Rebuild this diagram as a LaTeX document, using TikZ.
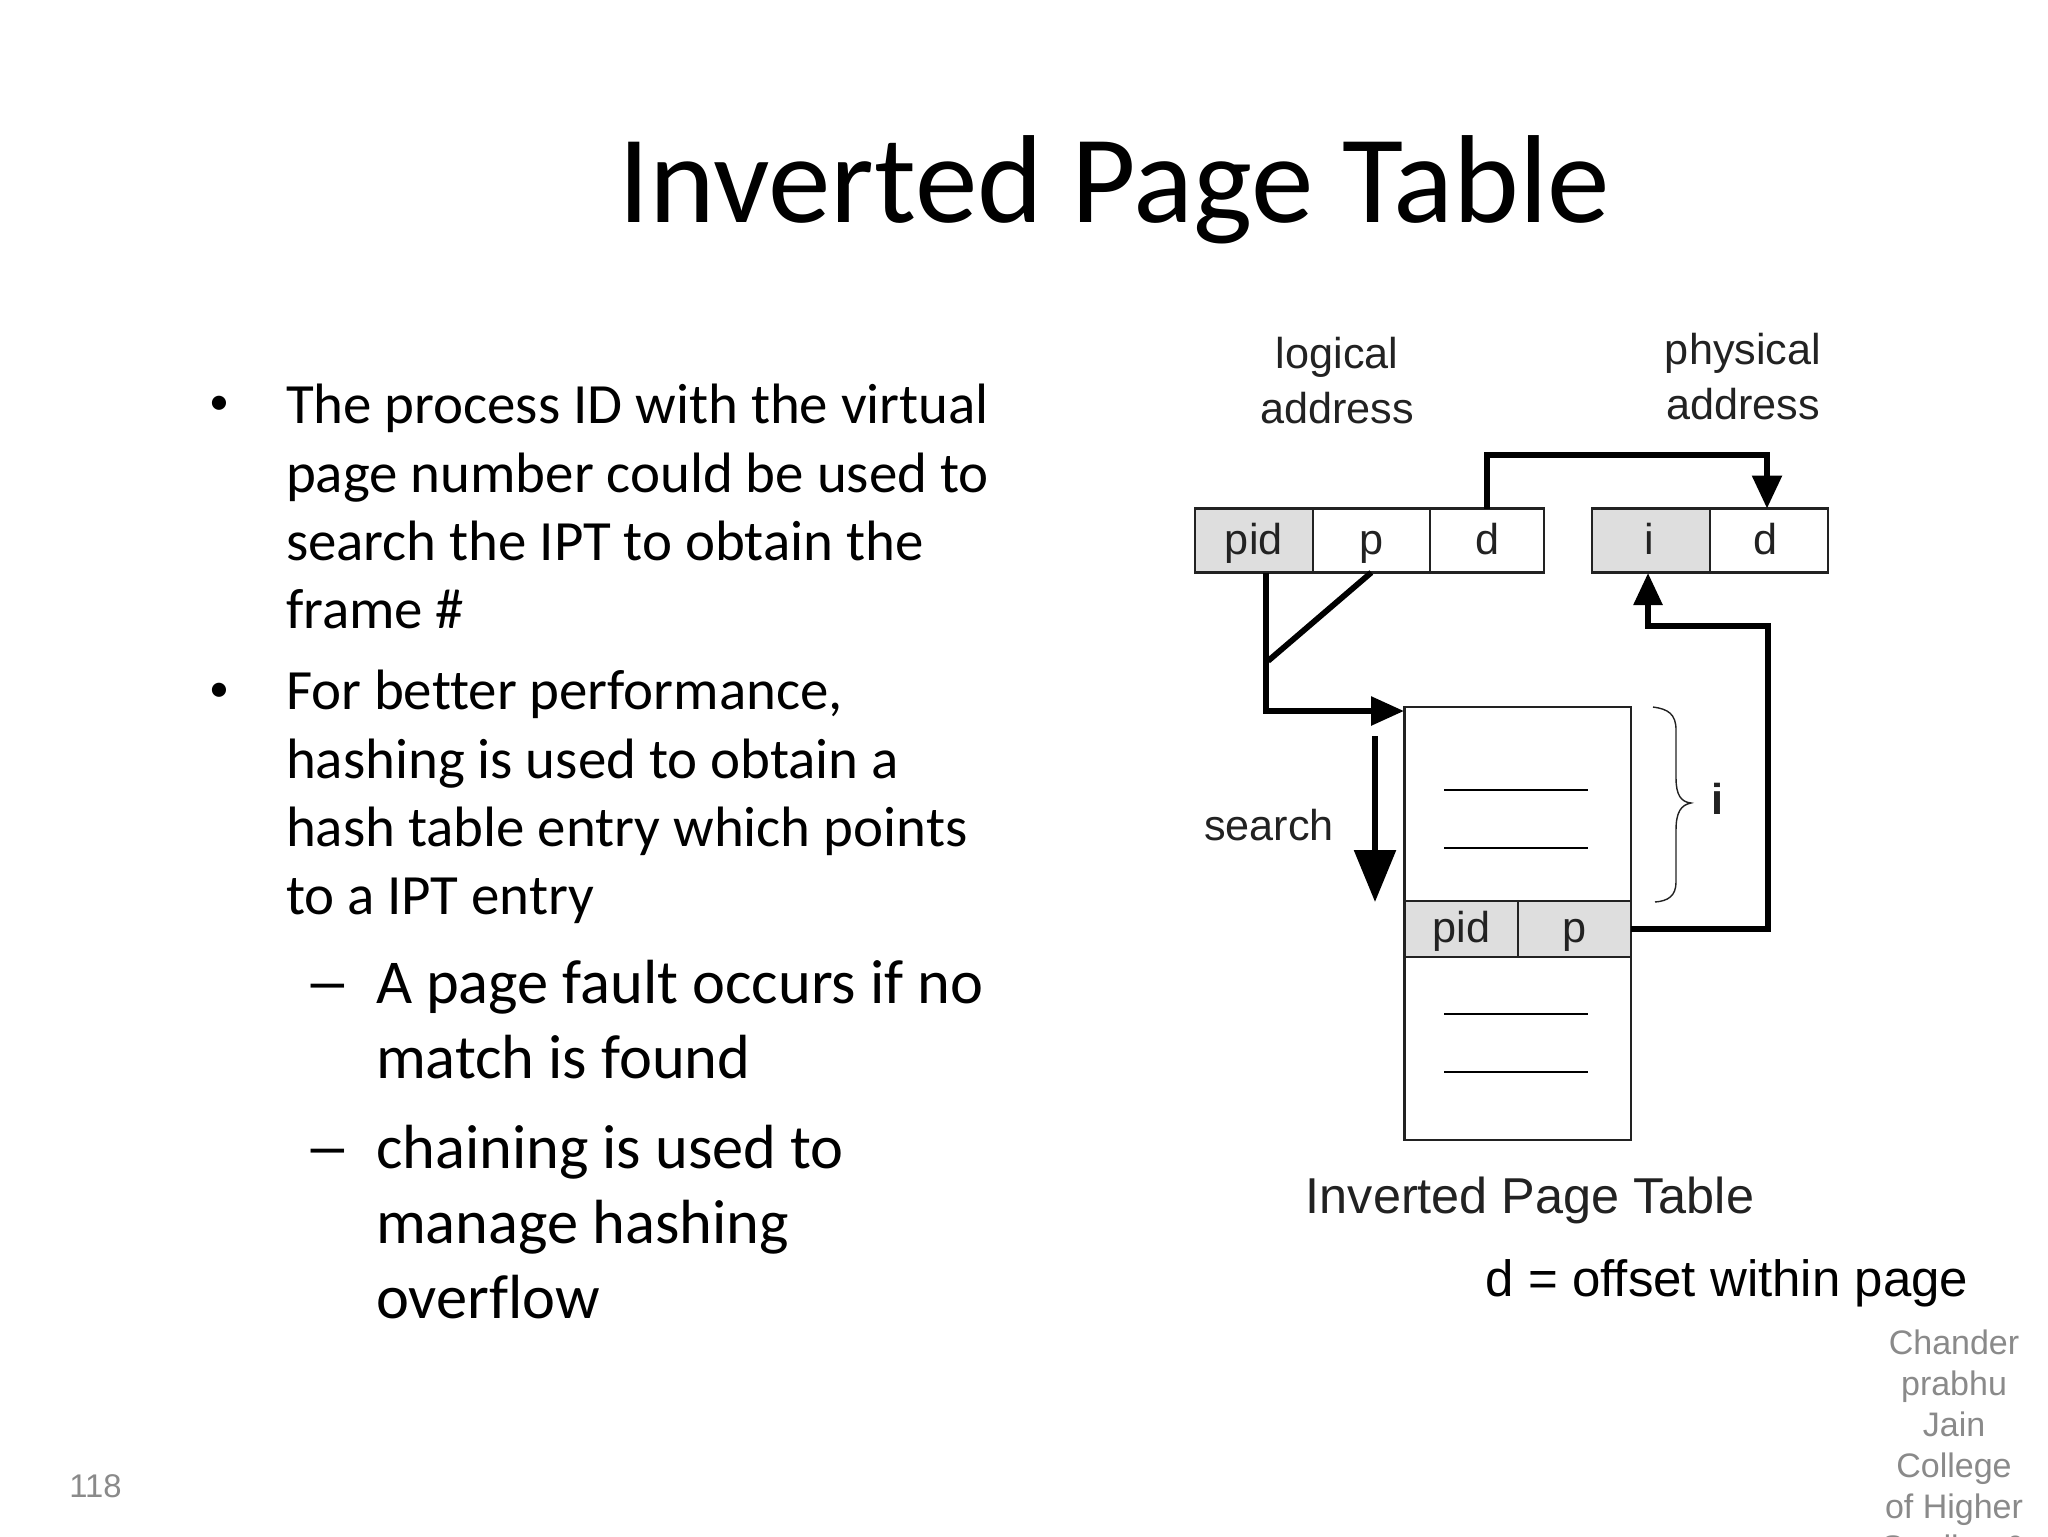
\documentclass[tikz,border=0pt]{standalone}
\usepackage{fontspec}
\setmainfont{Carlito}[Ligatures=NoCommon]
\newfontfamily\arialfont{Liberation Sans}
\usetikzlibrary{arrows.meta}
\definecolor{cellgray}{HTML}{DEDEDE}
\definecolor{footgray}{HTML}{8A8A8A}
\definecolor{inkdark}{HTML}{222222}
\tikzset{
  x=0.5pt,y=-0.5pt,
  txt/.style={inner sep=0pt,outer sep=0pt,anchor=base west,text=black},
  body/.style={txt,font=\fontsize{28.45}{34}\selectfont},
  sub/.style={txt,font=\fontsize{31.2}{36}\selectfont},
  ttl/.style={txt,font=\fontsize{62.6}{70}\selectfont},
  bulletmark/.style={txt,font=\fontsize{20}{22}\selectfont},
  lab/.style={inner sep=0pt,outer sep=0pt,anchor=base,text=inkdark,font=\arialfont\fontsize{21.6}{26}\selectfont},
  foot/.style={inner sep=0pt,outer sep=0pt,anchor=base,text=footgray,font=\arialfont\fontsize{17}{20}\selectfont},
  cell/.style={draw=inkdark,line width=1.1pt,inner sep=0pt,outer sep=0pt,minimum height=32pt,text=inkdark,
     font=\arialfont\fontsize{21.6}{26}\selectfont,text height=15pt,text depth=1pt},
  rowcell/.style={cell,fill=cellgray,minimum height=27.8pt,text height=14pt,text depth=1pt},
  wire/.style={draw=black,line width=2.9pt,line join=miter},
  thinline/.style={draw=black,line width=1pt},
}
\begin{document}
\begin{tikzpicture}
\useasboundingbox (0,0) rectangle (2048,1536);
\clip (0,0) rectangle (2048,1536);
\fill[white] (0,0) rectangle (2048,1536);
% title
\node[ttl] (title) at (618,222) {Inverted Page Table};
% body
\node[bulletmark] (b1) at (209,414) {•};
\node[body] (l1) at (286,423) {The process ID with the virtual};
\node[body] (l2) at (286,492) {page number could be used to};
\node[body] (l3) at (286,560) {search the IPT to obtain the};
\node[body] (l4) at (286,628) {frame \#};
\node[bulletmark] (b2) at (209,701) {•};
\node[body] (l5) at (286,709) {For better performance,};
\node[body] (l6) at (286,778) {hashing is used to obtain a};
\node[body] (l7) at (286,846) {hash table entry which points};
\node[body] (l8) at (286,914) {to a IPT entry};
\node[sub] (d1) at (304,1003) {\scalebox{1.5}[1]{–}};
\node[sub] (s1) at (376,1003) {A page fault occurs if no};
\node[sub] (s2) at (376,1078) {match is found};
\node[sub] (d2) at (304,1168) {\scalebox{1.5}[1]{–}};
\node[sub] (s3) at (376,1168) {chaining is used to};
\node[sub] (s4) at (376,1243) {manage hashing};
\node[sub] (s5) at (376,1318) {overflow};
% slide number and footer
\node[inner sep=0pt,anchor=base west,text=footgray,font=\arialfont\fontsize{16.4}{20}\selectfont] (num) at (69,1497) {118};
\node[foot] (f1) at (1954,1354) {Chander};
\node[foot] (f2) at (1954,1395) {prabhu};
\node[foot] (f3) at (1954,1436) {Jain};
\node[foot] (f4) at (1954,1477) {College};
\node[foot] (f5) at (1954,1518) {of Higher};
\node[foot] (f6) at (1954,1559) {Studies \&};
% labels
\node[lab] (la1) at (1337,368) {logical};
\node[lab] (la2) at (1337,423) {address};
\node[lab] (pa1) at (1743,364) {physical};
\node[lab] (pa2) at (1743,419) {address};
\node[lab] (srch) at (1269,840) {search};
\node[lab,font=\arialfont\fontsize{25.2}{30}\selectfont] (cap) at (1530,1213) {Inverted Page Table};
\node[inner sep=0pt,anchor=base,text=black,font=\arialfont\fontsize{25.5}{30}\selectfont] (eq) at (1727,1296) {d = offset within page};
% boxes
\node[cell,fill=cellgray,minimum width=58.8pt] (pidbox) at (1253.8,540.5) {pid};
\node[cell,minimum width=58.7pt] (pbox) at (1371.3,540.5) {p};
\node[cell,minimum width=57pt] (dbox) at (1487,540.5) {d};
\node[cell,fill=cellgray,minimum width=58.7pt] (ibox) at (1651,540.5) {\kern-2pt i};
\node[cell,minimum width=59pt] (dtwo) at (1769,540.5) {\kern-4pt d};
\node[cell,minimum width=113.25pt,minimum height=216.5pt] (table) at (1517.75,923.5) {};
\node[rowcell,minimum width=56.75pt] (rowpid) at (1461.2,929) {pid};
\node[rowcell,minimum width=56.5pt] (rowp) at (1574.5,929) {p};
% entry lines
\coordinate (e1a) at (1444,790); \coordinate (e1b) at (1588,790);
\coordinate (e2a) at (1444,847.5); \coordinate (e2b) at (1588,847.5);
\coordinate (e3a) at (1444,1014); \coordinate (e3b) at (1588,1014);
\coordinate (e4a) at (1444,1072); \coordinate (e4b) at (1588,1072);
\draw[thinline] (e1a) -- (e1b);
\draw[thinline] (e2a) -- (e2b);
\draw[thinline] (e3a) -- (e3b);
\draw[thinline] (e4a) -- (e4b);
% connectors
\coordinate (toplane) at (1487,455);
\draw[wire,-{Triangle[length=16.5pt,width=14.5pt]}] (dbox.north) -- (toplane) -| ([xshift=-1pt]dtwo.north);
\coordinate (pidout) at (1266,573);
\coordinate (tablein) at (1404,711);
\coordinate (pjoin) at (1268,661);
\draw[wire,-{Triangle[length=16.5pt,width=14pt]}] (pidout) |- (tablein);
\draw[wire] (pbox.south) -- (pjoin);
\coordinate (srcha) at (1375,736);
\coordinate (srchb) at (1375,902);
\draw[wire,-{Triangle[length=26pt,width=20.5pt]}] (srcha) -- (srchb);
\coordinate (retb) at (1768,929);
\coordinate (retc) at (1768,626);
\coordinate (retd) at (1648,626);
\coordinate (rete) at (1648,573);
\draw[wire,-{Triangle[length=16pt,width=14pt]}] (rowp.east) -- (retb) -- (retc) -- (retd) -- (rete);
% brace
\draw[draw=inkdark,line width=0.7pt] (1653,707) .. controls (1668,709) and (1676,714) .. (1676,730)
  -- (1676,778) .. controls (1676,795) and (1681,802) .. (1691,803)
  .. controls (1681,805) and (1676,812) .. (1676,830)
  -- (1676,882) .. controls (1676,896) and (1668,901) .. (1655,902);
\node[lab,font=\arialfont\bfseries\fontsize{21.6}{26}\selectfont] (ilabel) at (1717,814) {i};
\end{tikzpicture}
\end{document}
